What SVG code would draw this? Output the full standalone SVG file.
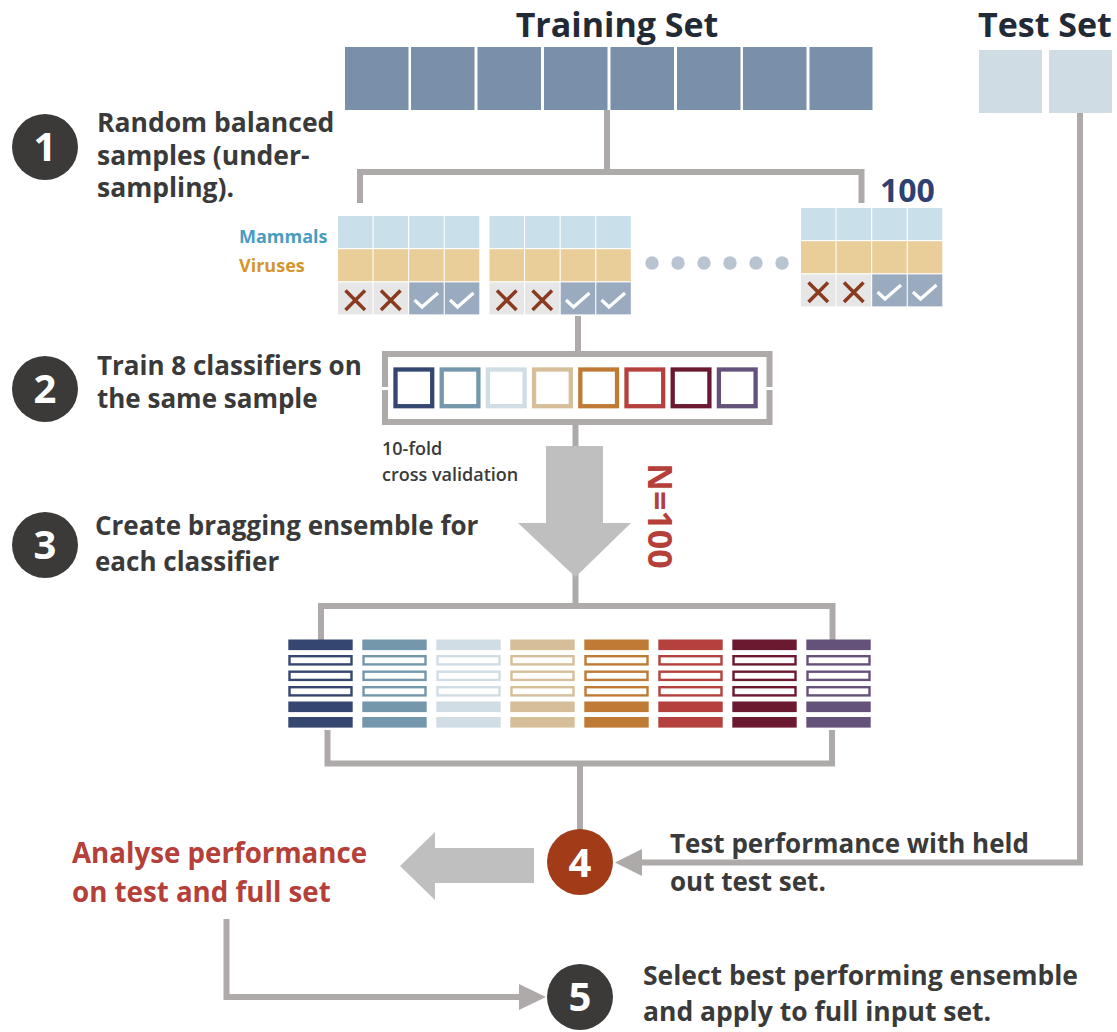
<svg xmlns="http://www.w3.org/2000/svg" width="1117" height="1032" viewBox="0 0 1117 1032">
<style>
  .t{font-family:"Open Sans","Liberation Sans",sans-serif;font-weight:700}
  .step{font-size:26px;fill:#3a3a3a}
  .step2{font-size:26.5px;fill:#3a3a3a}
  .title{font-size:34px;fill:#222a36}
  .num{font-size:40px;fill:#fff;text-anchor:middle}
  .conn{fill:none;stroke:#aeaaa9;stroke-width:6}
  .big{fill:#bfbfbf}
  .cdark{fill:#3b3a39}
  .mam{fill:#c9dfe9}.vir{fill:#eace9a}.xc{fill:#e6e6e6}.ck{fill:#9aabc0}
  .xm{stroke:#8a3a1e;stroke-width:3.5;fill:none}
  .cm{stroke:#fff;stroke-width:3.2;fill:none}
  .red{fill:#b5403a}
  .cv{font-size:18px;fill:#3a3a3a;font-weight:600}
</style>
<defs>
  <g id="grid">
    <rect class="mam" x="0" y="0" width="34.5" height="32"/>
    <rect class="mam" x="35.6" y="0" width="34.5" height="32"/>
    <rect class="mam" x="71.2" y="0" width="34.5" height="32"/>
    <rect class="mam" x="106.8" y="0" width="34.5" height="32"/>
    <rect class="vir" x="0" y="33.2" width="34.5" height="32"/>
    <rect class="vir" x="35.6" y="33.2" width="34.5" height="32"/>
    <rect class="vir" x="71.2" y="33.2" width="34.5" height="32"/>
    <rect class="vir" x="106.8" y="33.2" width="34.5" height="32"/>
    <rect class="xc" x="0" y="66.4" width="34.5" height="32"/>
    <rect class="xc" x="35.6" y="66.4" width="34.5" height="32"/>
    <rect class="ck" x="71.2" y="66.4" width="34.5" height="32"/>
    <rect class="ck" x="106.8" y="66.4" width="34.5" height="32"/>
    <path class="xm" d="M7.5,74.5 L27,94 M27,74.5 L7.5,94"/>
    <path class="xm" d="M43,74.5 L62.5,94 M62.5,74.5 L43,94"/>
    <path class="cm" d="M76.5,84 L84,91 L100,77"/>
    <path class="cm" d="M112,84 L119.5,91 L135.5,77"/>
  </g>
</defs>

<!-- connectors -->
<g id="connectors">
  <path class="conn" d="M607,110 V172 M360,203 V172 H861.5 V203"/>
  <path class="conn" d="M578,316 V352"/>
  <path class="conn" d="M385,387 V354 H769.5 V387"/>
  <path class="conn" d="M385,390 V422 H769.5 V390"/>
  <path class="conn" d="M575.5,422 V447"/>
  <path class="conn" d="M575.5,570 V607"/>
  <path class="conn" d="M321,640 V606 H832.5 V640"/>
  <path class="conn" d="M327.5,730 V763.5 H832 V730"/>
  <path class="conn" d="M580,763 V830"/>
  <path class="conn" d="M1080,113 V862.5 H638"/>
  <polygon fill="#aeaaa9" points="642,849 615,862.5 642,876"/>
  <path class="conn" d="M226.5,919 V997 H524"/>
  <polygon fill="#aeaaa9" points="519,984 546,997 519,1010"/>
  <polygon class="big" points="546,446 603,446 603,523 631,523 575.5,577 518,523 546,523"/>
  <polygon class="big" points="400,866 435,832 435,848 534,848 534,883 435,883 435,900"/>
</g>

<!-- Training set -->
<g id="training-set">
  <text class="t title" x="617" y="37" text-anchor="middle">Training Set</text>
  <g fill="#7a8faa">
    <rect x="345" y="47" width="63.5" height="63"/>
    <rect x="411" y="47" width="63.5" height="63"/>
    <rect x="477.5" y="47" width="63.5" height="63"/>
    <rect x="544" y="47" width="63.5" height="63"/>
    <rect x="610.5" y="47" width="63.5" height="63"/>
    <rect x="677" y="47" width="63.5" height="63"/>
    <rect x="743" y="47" width="63.5" height="63"/>
    <rect x="809.5" y="47" width="63" height="63"/>
  </g>
</g>

<!-- Test set -->
<g id="test-set">
  <text class="t title" x="978" y="37">Test Set</text>
  <rect x="979" y="50" width="63" height="63" fill="#cfdce4"/>
  <rect x="1049" y="50" width="63" height="63" fill="#cfdce4"/>
</g>

<!-- Step 1 -->
<g id="step1">
  <circle class="cdark" cx="45" cy="147" r="33"/>
  <text class="t num" x="45" y="161">1</text>
  <text class="t step2" x="97" y="132">Random balanced</text>
  <text class="t step2" x="97" y="164.5">samples (under-</text>
  <text class="t step2" x="97" y="197">sampling).</text>
</g>

<!-- samples -->
<g id="samples">
  <text class="t" x="239" y="243" font-size="18" fill="#4a9cc0">Mammals</text>
  <text class="t" x="239" y="272" font-size="18" fill="#d4962c">Viruses</text>
  <g id="sample-1"><use href="#grid" transform="translate(338,216)"/></g>
  <g id="sample-2"><use href="#grid" transform="translate(489.5,216)"/></g>
  <g id="dots" fill="#b8c4d2">
    <circle cx="652" cy="263" r="6.7"/>
    <circle cx="678" cy="263" r="6.7"/>
    <circle cx="704" cy="263" r="6.7"/>
    <circle cx="730" cy="263" r="6.7"/>
    <circle cx="756" cy="263" r="6.7"/>
    <circle cx="782" cy="263" r="6.7"/>
  </g>
  <g id="sample-100"><use href="#grid" transform="translate(801,208)"/></g>
  <text class="t" x="880" y="202" font-size="32" fill="#2f4170">100</text>
</g>

<!-- Step 2 -->
<g id="step2">
  <circle class="cdark" cx="45" cy="389" r="33"/>
  <text class="t num" x="45" y="403">2</text>
  <text class="t step" x="97" y="375">Train 8 classifiers on</text>
  <text class="t step" x="97" y="408">the same sample</text>
</g>

<!-- classifiers -->
<g id="classifiers" fill="none" stroke-width="4.3">
  <rect x="395.5" y="369.5" width="36.7" height="36.7" stroke="#354670"/>
  <rect x="441.7" y="369.5" width="36.7" height="36.7" stroke="#7497ac"/>
  <rect x="487.9" y="369.5" width="36.7" height="36.7" stroke="#d0dde4"/>
  <rect x="534.1" y="369.5" width="36.7" height="36.7" stroke="#d6be9a"/>
  <rect x="580.3" y="369.5" width="36.7" height="36.7" stroke="#bf7b36"/>
  <rect x="626.5" y="369.5" width="36.7" height="36.7" stroke="#b4413e"/>
  <rect x="672.7" y="369.5" width="36.7" height="36.7" stroke="#6b1930"/>
  <rect x="718.9" y="369.5" width="36.7" height="36.7" stroke="#65527a"/>
</g>

<g id="cv-label">
  <text class="t cv" x="382" y="455">10-fold</text>
  <text class="t cv" x="382" y="481">cross validation</text>
</g>

<g id="n100">
  <text class="t red" transform="translate(648,516) rotate(90)" x="0" y="0" font-size="34" text-anchor="middle">N=100</text>
</g>

<!-- Step 3 -->
<g id="step3">
  <circle class="cdark" cx="45" cy="545" r="33"/>
  <text class="t num" x="45" y="559">3</text>
  <text class="t step" x="95" y="535">Create bragging ensemble for</text>
  <text class="t step" x="95" y="571">each classifier</text>
</g>

<!-- ensembles -->
<g id="ensembles">
  <g id="ens-1" fill="#354670" stroke="#354670"><rect x="288.3" y="639.5" width="64.4" height="10.6" stroke="none"/><rect x="289.5" y="656.2" width="62" height="8.2" fill="#fff" stroke-width="2.4"/><rect x="289.5" y="671.7" width="62" height="8.2" fill="#fff" stroke-width="2.4"/><rect x="289.5" y="687.2" width="62" height="8.2" fill="#fff" stroke-width="2.4"/><rect x="288.3" y="701.5" width="64.4" height="10.6" stroke="none"/><rect x="288.3" y="717" width="64.4" height="10.6" stroke="none"/></g>
  <g id="ens-2" fill="#7497ac" stroke="#7497ac"><rect x="362.3" y="639.5" width="64.4" height="10.6" stroke="none"/><rect x="363.5" y="656.2" width="62" height="8.2" fill="#fff" stroke-width="2.4"/><rect x="363.5" y="671.7" width="62" height="8.2" fill="#fff" stroke-width="2.4"/><rect x="363.5" y="687.2" width="62" height="8.2" fill="#fff" stroke-width="2.4"/><rect x="362.3" y="701.5" width="64.4" height="10.6" stroke="none"/><rect x="362.3" y="717" width="64.4" height="10.6" stroke="none"/></g>
  <g id="ens-3" fill="#d0dde4" stroke="#d0dde4"><rect x="436.3" y="639.5" width="64.4" height="10.6" stroke="none"/><rect x="437.5" y="656.2" width="62" height="8.2" fill="#fff" stroke-width="2.4"/><rect x="437.5" y="671.7" width="62" height="8.2" fill="#fff" stroke-width="2.4"/><rect x="437.5" y="687.2" width="62" height="8.2" fill="#fff" stroke-width="2.4"/><rect x="436.3" y="701.5" width="64.4" height="10.6" stroke="none"/><rect x="436.3" y="717" width="64.4" height="10.6" stroke="none"/></g>
  <g id="ens-4" fill="#d6be9a" stroke="#d6be9a"><rect x="510.3" y="639.5" width="64.4" height="10.6" stroke="none"/><rect x="511.5" y="656.2" width="62" height="8.2" fill="#fff" stroke-width="2.4"/><rect x="511.5" y="671.7" width="62" height="8.2" fill="#fff" stroke-width="2.4"/><rect x="511.5" y="687.2" width="62" height="8.2" fill="#fff" stroke-width="2.4"/><rect x="510.3" y="701.5" width="64.4" height="10.6" stroke="none"/><rect x="510.3" y="717" width="64.4" height="10.6" stroke="none"/></g>
  <g id="ens-5" fill="#bf7b36" stroke="#bf7b36"><rect x="584.3" y="639.5" width="64.4" height="10.6" stroke="none"/><rect x="585.5" y="656.2" width="62" height="8.2" fill="#fff" stroke-width="2.4"/><rect x="585.5" y="671.7" width="62" height="8.2" fill="#fff" stroke-width="2.4"/><rect x="585.5" y="687.2" width="62" height="8.2" fill="#fff" stroke-width="2.4"/><rect x="584.3" y="701.5" width="64.4" height="10.6" stroke="none"/><rect x="584.3" y="717" width="64.4" height="10.6" stroke="none"/></g>
  <g id="ens-6" fill="#b4413e" stroke="#b4413e"><rect x="658.3" y="639.5" width="64.4" height="10.6" stroke="none"/><rect x="659.5" y="656.2" width="62" height="8.2" fill="#fff" stroke-width="2.4"/><rect x="659.5" y="671.7" width="62" height="8.2" fill="#fff" stroke-width="2.4"/><rect x="659.5" y="687.2" width="62" height="8.2" fill="#fff" stroke-width="2.4"/><rect x="658.3" y="701.5" width="64.4" height="10.6" stroke="none"/><rect x="658.3" y="717" width="64.4" height="10.6" stroke="none"/></g>
  <g id="ens-7" fill="#6b1930" stroke="#6b1930"><rect x="732.3" y="639.5" width="64.4" height="10.6" stroke="none"/><rect x="733.5" y="656.2" width="62" height="8.2" fill="#fff" stroke-width="2.4"/><rect x="733.5" y="671.7" width="62" height="8.2" fill="#fff" stroke-width="2.4"/><rect x="733.5" y="687.2" width="62" height="8.2" fill="#fff" stroke-width="2.4"/><rect x="732.3" y="701.5" width="64.4" height="10.6" stroke="none"/><rect x="732.3" y="717" width="64.4" height="10.6" stroke="none"/></g>
  <g id="ens-8" fill="#65527a" stroke="#65527a"><rect x="806.3" y="639.5" width="64.4" height="10.6" stroke="none"/><rect x="807.5" y="656.2" width="62" height="8.2" fill="#fff" stroke-width="2.4"/><rect x="807.5" y="671.7" width="62" height="8.2" fill="#fff" stroke-width="2.4"/><rect x="807.5" y="687.2" width="62" height="8.2" fill="#fff" stroke-width="2.4"/><rect x="806.3" y="701.5" width="64.4" height="10.6" stroke="none"/><rect x="806.3" y="717" width="64.4" height="10.6" stroke="none"/></g>
</g>

<!-- Step 4 -->
<g id="step4">
  <circle cx="580" cy="862" r="33" fill="#a23b17"/>
  <text class="t num" x="580" y="877" font-size="42">4</text>
  <text class="t step" x="670" y="853">Test performance with held</text>
  <text class="t step" x="670" y="891">out test set.</text>
</g>

<g id="analyse">
  <text class="t red" x="72" y="863" font-size="27.7">Analyse performance</text>
  <text class="t red" x="72" y="901.5" font-size="27.7">on test and full set</text>
</g>

<!-- Step 5 -->
<g id="step5">
  <circle class="cdark" cx="580" cy="997" r="33"/>
  <text class="t num" x="580" y="1011">5</text>
  <text class="t step2" x="643" y="985">Select best performing ensemble</text>
  <text class="t step2" x="643" y="1021">and apply to full input set.</text>
</g>
</svg>
